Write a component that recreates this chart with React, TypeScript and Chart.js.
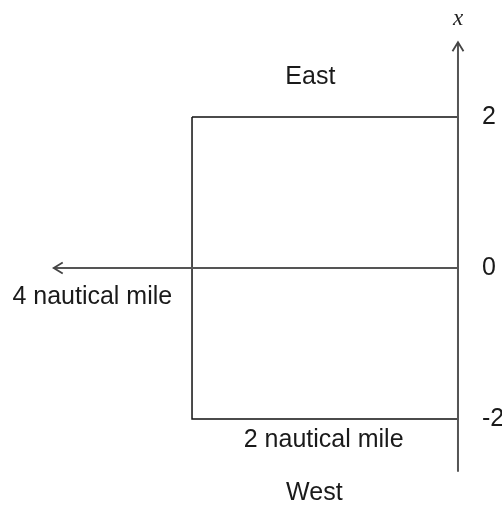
import React, { useEffect, useRef } from "react";
import { Chart, registerables } from "chart.js";

Chart.register(...registerables);

// Rectangle (region) corners, in chart units (x: horizontal, y: vertical axis "x")
const rectX = [-2, 0, 0, -2, -2];
const rectY = [2, 2, -2, -2, 2];

// Vertical axis extent and horizontal arrow extent
const axisYBottom = -2.7;
const axisYTop = 2.99;
const arrowXEnd = -3.04;

// Tick labels on the vertical axis
const tickValues = [2, 0, -2];
const tickLabels = ["2", "0", "-2"];

// Text annotations
const noteTexts = ["East", "West", "2 nautical mile", "4 nautical mile"];
const noteX = [-1.11, -1.08, -1.01, -2.75];
const noteY = [2.53, -2.98, -2.28, -0.38];

const axisName = "x";
const axisNameY = 3.3;

export default function App() {
  const ref = useRef<HTMLCanvasElement | null>(null);

  useEffect(() => {
    if (!ref.current) return;
    const font = '25px "Liberation Sans", Arial, sans-serif';
    const plugin = {
      id: "decor",
      afterDatasetsDraw(chart: any) {
        const ctx = chart.ctx;
        const xs = chart.scales.x;
        const ys = chart.scales.y;
        ctx.save();
        // arrowheads
        ctx.strokeStyle = "#444";
        ctx.lineWidth = 1.8;
        const tx = xs.getPixelForValue(0);
        const ty = ys.getPixelForValue(axisYTop);
        ctx.beginPath();
        ctx.moveTo(tx - 5.5, ty + 9);
        ctx.lineTo(tx, ty);
        ctx.lineTo(tx + 5.5, ty + 9);
        ctx.stroke();
        const lx = xs.getPixelForValue(arrowXEnd);
        const ly = ys.getPixelForValue(0);
        ctx.beginPath();
        ctx.moveTo(lx + 9, ly - 5.5);
        ctx.lineTo(lx, ly);
        ctx.lineTo(lx + 9, ly + 5.5);
        ctx.stroke();

        ctx.fillStyle = "#1a1a1a";
        ctx.font = font;
        ctx.textBaseline = "middle";
        ctx.textAlign = "left";
        tickValues.forEach((v, i) => {
          ctx.fillText(tickLabels[i], tx + 24, ys.getPixelForValue(v));
        });
        ctx.textAlign = "center";
        noteTexts.forEach((t, i) => {
          ctx.fillText(t, xs.getPixelForValue(noteX[i]), ys.getPixelForValue(noteY[i]));
        });
        ctx.font = 'italic 23px "Liberation Serif", "DejaVu Serif", serif';
        ctx.fillStyle = "#222";
        ctx.fillText(axisName, tx, ys.getPixelForValue(axisNameY));
        ctx.restore();
      },
    };

    const chart = new Chart(ref.current, {
      type: "scatter",
      data: {
        datasets: [
          {
            data: [
              { x: 0, y: axisYBottom },
              { x: 0, y: axisYTop },
            ],
            showLine: true,
            borderColor: "#555",
            borderWidth: 2,
            pointRadius: 0,
          },
          {
            data: [
              { x: 0, y: 0 },
              { x: arrowXEnd, y: 0 },
            ],
            showLine: true,
            borderColor: "#555",
            borderWidth: 2,
            pointRadius: 0,
          },
          {
            data: rectX.map((x, i) => ({ x, y: rectY[i] })),
            showLine: true,
            borderColor: "#111",
            borderWidth: 1.5,
            pointRadius: 0,
            fill: false,
          },
        ],
      },
      options: {
        responsive: false,
        animation: false,
        layout: { padding: 0 },
        plugins: { legend: { display: false }, tooltip: { enabled: false } },
        scales: {
          x: { type: "linear", min: -3.444, max: 0.331, display: false },
          y: { type: "linear", min: -3.139, max: 3.55, display: false },
        },
      },
      plugins: [plugin],
    });
    return () => chart.destroy();
  }, []);

  return (
    <div style={{ position: "fixed", left: 0, top: 0, width: 502, height: 505, background: "#fff" }}>
      <canvas ref={ref} width={502} height={505} />
    </div>
  );
}
